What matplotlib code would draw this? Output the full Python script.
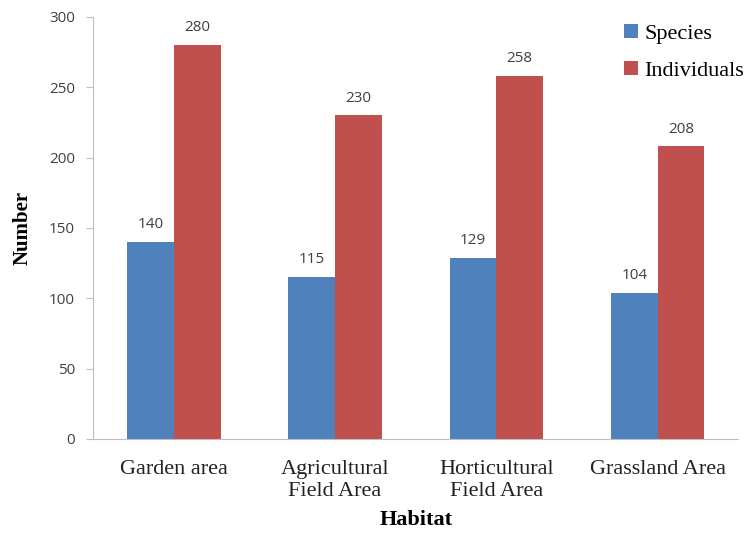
import numpy as np
import matplotlib.pyplot as plt

habitats = ["Garden area", "Agricultural\nField Area", "Horticultural\nField Area", "Grassland Area"]
species = [140, 115, 129, 104]
individuals = [280, 230, 258, 208]

blue = "#4F81BD"
red = "#C0504D"
grey = "#404040"

fig = plt.figure(figsize=(7.45, 5.37), dpi=100)
ax = fig.add_axes([0.125, 0.1825, 0.866, 0.786])

x = np.arange(len(habitats))
w = 0.29
b1 = ax.bar(x - w / 2, species, w, color=blue, label="Species")
b2 = ax.bar(x + w / 2, individuals, w, color=red, label="Individuals")

for bars in (b1, b2):
    for b in bars:
        ax.text(b.get_x() + b.get_width() / 2, b.get_height() + 7, "%d" % b.get_height(),
                ha="center", va="bottom", fontsize=11, color=grey, family="Open Sans")

ax.set_xlim(-0.5, 3.5)
ax.set_ylim(0, 300)
ax.set_yticks(range(0, 301, 50))
ax.set_xticks(x)
ax.set_xticklabels(habitats, family="Liberation Serif", fontsize=16, color="#222222",
                   linespacing=1.25)
for t in ax.get_yticklabels():
    t.set_family("Open Sans")
    t.set_fontsize(11)
    t.set_color(grey)
ax.tick_params(axis="x", length=0, pad=15)
ax.tick_params(axis="y", length=5, color="#bfbfbf", pad=8)

for s in ("top", "right"):
    ax.spines[s].set_visible(False)
for s in ("left", "bottom"):
    ax.spines[s].set_color("#bfbfbf")

ax.set_ylabel("Number", family="Liberation Serif", fontweight="bold", fontsize=15, labelpad=12)
ax.set_xlabel("Habitat", family="Liberation Serif", fontweight="bold", fontsize=16, labelpad=6)

ax.legend(loc="upper right", bbox_to_anchor=(1.04, 1.03), frameon=False,
          prop={"family": "Liberation Serif", "size": 16}, handlelength=0.6, handleheight=0.6,
          handletextpad=0.3, labelspacing=0.75)

fig.savefig("out.png", dpi=100)
